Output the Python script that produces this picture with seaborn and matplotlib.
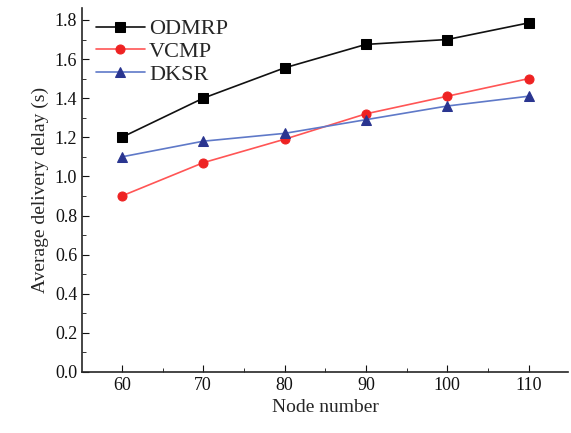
import matplotlib
matplotlib.use("Agg")
import matplotlib.pyplot as plt
import seaborn as sns
import pandas as pd
from matplotlib.ticker import MultipleLocator

nodes = [60, 70, 80, 90, 100, 110]
odmrp = [1.20, 1.40, 1.555, 1.675, 1.70, 1.785]
vcmp = [0.90, 1.07, 1.19, 1.32, 1.41, 1.50]
dksr = [1.10, 1.18, 1.22, 1.29, 1.36, 1.41]

sns.set_style("ticks")
plt.rcParams['font.family'] = ['Liberation Serif', 'DejaVu Serif']

fig = plt.figure(figsize=(5.71, 4.33), dpi=100)
ax = fig.add_axes([0.1436, 0.141, 0.852, 0.84])

series = [
    ("ODMRP", odmrp, "#111111", "#000000", "s", 6.5),
    ("VCMP", vcmp, "#ff5555", "#ee2222", "o", 6.5),
    ("DKSR", dksr, "#5f79c8", "#2a3590", "^", 7.5),
]
for name, vals, lc, mc, mk, ms in series:
    df = pd.DataFrame({"x": nodes, "y": vals})
    sns.lineplot(data=df, x="x", y="y", ax=ax, color=lc, marker=mk,
                 markersize=ms, markerfacecolor=mc, markeredgecolor=mc,
                 linewidth=1.2, label=name)

ax.set_xlim(55.1, 114.9)
ax.set_ylim(0.0, 1.86)
ax.set_xticks(nodes)
ax.xaxis.set_minor_locator(MultipleLocator(5))
ax.yaxis.set_major_locator(MultipleLocator(0.2))
ax.yaxis.set_minor_locator(MultipleLocator(0.1))
ax.set_yticklabels([f"{v:.1f}" for v in ax.get_yticks()])
ax.tick_params(which="both", direction="in", labelsize=13, colors="#111111")
ax.tick_params(which="major", length=5)
ax.tick_params(which="minor", length=3)
for s in ["top", "right"]:
    ax.spines[s].set_visible(False)
ax.spines["left"].set_linewidth(1.2)
ax.spines["bottom"].set_linewidth(1.2)
ax.set_xlabel("Node number", fontsize=14)
ax.set_ylabel("Average delivery delay (s)", fontsize=14)
leg = ax.legend(loc="upper left", frameon=False, fontsize=16, handlelength=2.2,
                handletextpad=0.2, labelspacing=0.1, borderaxespad=0.0,
                bbox_to_anchor=(0.01, 0.995))
fig.savefig("out.png", dpi=100)
